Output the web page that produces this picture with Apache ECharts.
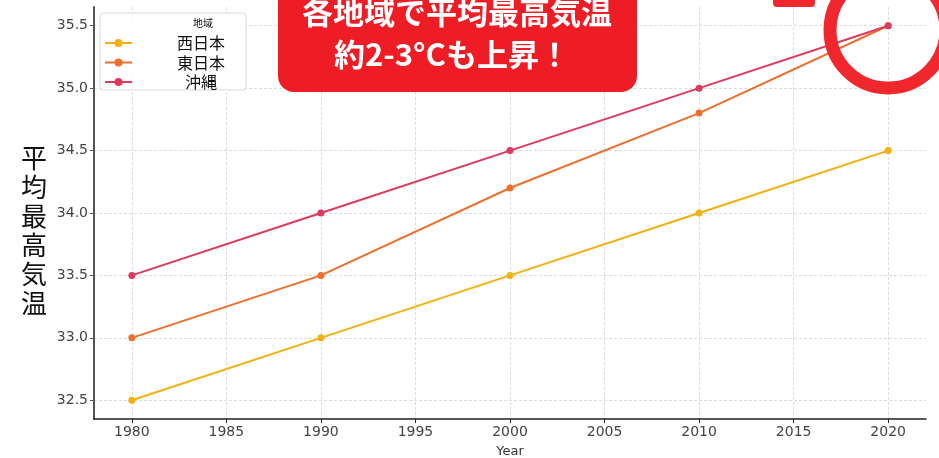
<!DOCTYPE html>
<html>
<head>
<meta charset="utf-8">
<script src="https://cdn.jsdelivr.net/npm/echarts@6/dist/echarts.min.js"></script>
<style>
  html, body { margin: 0; padding: 0; background: #fff; }
  #chart { width: 939px; height: 458px; }
</style>
</head>
<body>
<div id="chart"></div>
<script>
// Average maximum temperature by region (°C)
const years = [1980, 1990, 2000, 2010, 2020];
const westJapan = [32.5, 33.0, 33.5, 34.0, 34.5];
const eastJapan = [33.0, 33.5, 34.2, 34.8, 35.5];
const okinawa = [33.5, 34.0, 34.5, 35.0, 35.5];

const seriesNames = ['西日本', '東日本', '沖縄'];
const seriesColors = ['#F2B10E', '#EC6F2C', '#DE3A5D'];
const xTicks = [1980, 1985, 1990, 1995, 2000, 2005, 2010, 2015, 2020];
const yTicks = [32.5, 33.0, 33.5, 34.0, 34.5, 35.0, 35.5];

const pairs = (ys) => years.map((y, i) => [y, ys[i]]);
const tickFont = 'DejaVu Sans';
const cjkFont = '"Noto Sans CJK JP", "Noto Sans CJK SC", sans-serif';
const accentRed = '#EE1D25';

const chart = echarts.init(document.getElementById('chart'), null, { renderer: 'canvas' });

const makeSeries = (name, data, color, z) => ({
  name: name,
  type: 'line',
  data: pairs(data),
  z: z,
  symbol: 'circle',
  symbolSize: 7,
  lineStyle: { width: 2, color: color },
  itemStyle: { color: color },
  emphasis: { disabled: true },
  animation: false
});

chart.setOption({
  animation: false,
  grid: { left: 94, top: 7, right: 13, bottom: 39, containLabel: false, outerBoundsMode: 'none' },
  xAxis: {
    type: 'value',
    min: 1978,
    max: 2022,
    name: 'Year',
    nameLocation: 'middle',
    nameGap: 26,
    nameTextStyle: { fontFamily: tickFont, fontSize: 13, color: '#333' },
    axisLine: { show: true, lineStyle: { color: '#222', width: 1.5 } },
    axisTick: { show: true, length: 4, lineStyle: { color: '#222' }, customValues: xTicks },
    axisLabel: {
      customValues: xTicks, margin: 6, fontFamily: tickFont, fontSize: 14, color: '#444',
      formatter: (v) => String(v)
    },
    splitLine: { show: true, lineStyle: { color: '#dcdcdc', type: [3, 2], width: 1 } }
  },
  yAxis: {
    type: 'value',
    min: 32.35,
    max: 35.65,
    axisLine: { show: true, lineStyle: { color: '#555', width: 2 } },
    axisTick: { show: true, length: 4, lineStyle: { color: '#555' }, customValues: yTicks },
    axisLabel: {
      customValues: yTicks, margin: 6, fontFamily: tickFont, fontSize: 14, color: '#444',
      formatter: (v) => Number(v).toFixed(1)
    },
    splitLine: { show: true, lineStyle: { color: '#dcdcdc', type: [3, 2], width: 1 } }
  },
  legend: {
    data: seriesNames,
    orient: 'vertical',
    left: 104,
    top: 35,
    padding: 0,
    itemGap: 3.5,
    itemWidth: 27,
    itemHeight: 10,
    formatter: (name) => '{c|' + name + '}',
    textStyle: {
      rich: {
        c: { fontFamily: cjkFont, fontSize: 16, color: '#111', width: 128, align: 'center', lineHeight: 18 }
      }
    },
    selectedMode: false
  },
  series: [
    makeSeries(seriesNames[0], westJapan, seriesColors[0], 2),
    makeSeries(seriesNames[1], eastJapan, seriesColors[1], 3),
    makeSeries(seriesNames[2], okinawa, seriesColors[2], 4)
  ],
  graphic: [
    // legend frame and title
    {
      type: 'rect', z: 1, silent: true,
      shape: { x: 100, y: 13, width: 146, height: 77, r: 3 },
      style: { fill: 'rgba(255,255,255,0.85)', stroke: '#d8d8d8', lineWidth: 1 }
    },
    {
      type: 'text', z: 5, silent: true,
      style: { x: 203, y: 23, text: '地域', align: 'center', verticalAlign: 'middle',
               font: '10px ' + cjkFont, fill: '#111' }
    },
    // vertical y-axis title
    {
      type: 'text', z: 5, silent: true,
      style: { x: 34, y: 231, text: '平\n均\n最\n高\n気\n温', align: 'center', verticalAlign: 'middle',
               font: '26px ' + cjkFont, lineHeight: 29, fill: '#111' }
    },
    // headline banner
    {
      type: 'rect', z: 20, silent: true,
      shape: { x: 278, y: -30, width: 359, height: 122, r: 16 },
      style: { fill: accentRed }
    },
    {
      type: 'text', z: 21, silent: true,
      style: { x: 457, y: 12, text: '各地域で平均最高気温', align: 'center', verticalAlign: 'middle',
               font: 'bold 31px ' + cjkFont, fill: '#fff' }
    },
    {
      type: 'text', z: 21, silent: true,
      style: { x: 452, y: 54, text: '約2-3°Cも上昇！', align: 'center', verticalAlign: 'middle',
               font: 'bold 31px ' + cjkFont, fill: '#fff' }
    },
    // highlight ring around 2020 and short accent bar
    {
      type: 'circle', z: 20, silent: true,
      shape: { cx: 888, cy: 30, r: 58 },
      style: { fill: 'none', stroke: '#F0282E', lineWidth: 13 }
    },
    {
      type: 'rect', z: 20, silent: true,
      shape: { x: 773, y: -6, width: 42, height: 13, r: 4 },
      style: { fill: '#F0282E' }
    }
  ]
});
</script>
</body>
</html>
